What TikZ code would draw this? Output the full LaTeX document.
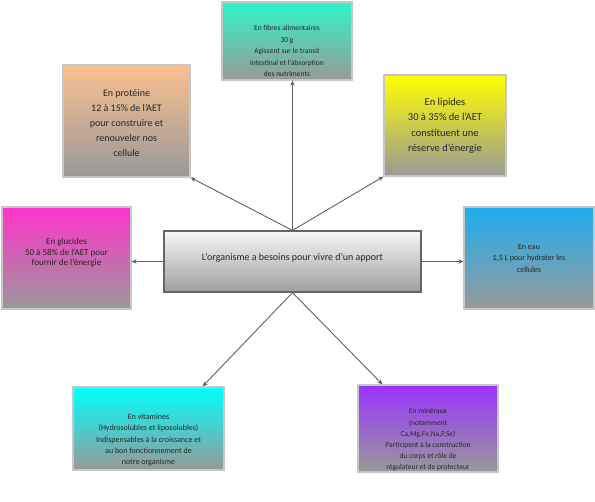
\documentclass[tikz,border=0pt]{standalone}
\usepackage{fontspec}
\setmainfont{Carlito}
\usetikzlibrary{arrows.meta}
\definecolor{fibc}{RGB}{48,245,200}
\definecolor{proc}{RGB}{250,192,144}
\definecolor{lipc}{RGB}{255,255,0}
\definecolor{gluc}{RGB}{255,51,204}
\definecolor{eauc}{RGB}{30,174,239}
\definecolor{vitc}{RGB}{0,255,255}
\definecolor{minc}{RGB}{153,51,255}
\definecolor{basegray}{RGB}{153,153,153}
\definecolor{inkarrow}{RGB}{96,96,96}

\begin{document}
\begin{tikzpicture}[x=1pt,y=-1pt,
  box/.style={draw=black!22,line width=1.2pt,bottom color=basegray,inner sep=0pt},
  txt/.style={align=center,inner sep=0pt,text=black!85},
  arr/.style={draw=inkarrow,line width=0.9pt,-{Stealth[length=5pt,width=4.5pt]}}]
\useasboundingbox (0,0) rectangle (595,502);
\foreach \n/\c/\x/\y/\w/\h in {fib/fibc/287/41/130/78, pro/proc/126.5/121/127/112,
  lip/lipc/445/125.5/122/101, glu/gluc/66.5/258/129/102, eau/eauc/529/258/130/102,
  vit/vitc/148.5/428.5/151/83, min/minc/428/428.5/140/87} {
  \node[box,top color=\c,minimum width=\w pt,minimum height=\h pt] (\n) at (\x,\y) {};
}
\node[draw=black!60,line width=1.2pt,top color=black!3,bottom color=black!38,
  minimum width=257pt,minimum height=61pt,inner sep=0pt] (ctr) at (292.5,261.5) {};
\node[txt,font=\fontsize{10}{12}\selectfont] (ctrt) at (292.5,258) {L’organisme a besoins pour vivre d’un apport};
\node[txt,font=\fontsize{7.5}{11.5}\selectfont] (fibt) at (287,51) {En fibres alimentaires\\30 g\\Agissent sur le transit\\intestinal et l’absorption\\des nutriments};
\node[txt,font=\fontsize{10}{15}\selectfont] (prot) at (126.5,123.5) {En protéine\\12 à 15\% de l’AET\\pour construire et\\renouveler nos\\cellule};
\node[txt,font=\fontsize{10.5}{15.5}\selectfont] (lipt) at (445,126) {En lipides\\30 à 35\% de l’AET\\constituent une\\réserve d’énergie};
\node[txt,font=\fontsize{9}{10.5}\selectfont] (glut) at (66.5,253) {En glucides\\50 à 58\% de l’AET pour\\fournir de l’énergie};
\node[txt,font=\fontsize{8}{11.5}\selectfont] (eaut) at (529,258) {En eau\\1,5 L pour hydrater les\\cellules};
\node[txt,font=\fontsize{8}{11.3}\selectfont] (vitt) at (148.5,440) {En vitamines\\(Hydrosolubles et liposolubles)\\Indispensables à la croissance et\\au bon fonctionnement de\\notre organisme};
\node[txt,font=\fontsize{7.5}{11.2}\selectfont] (mint) at (428,440) {En minéraux\\(notamment\\Ca,Mg,Fe,Na,P,Se)\\Participent à la construction\\du corps et rôle de\\régulateur et de protecteur};
\draw[arr] (ctr.north) -- (ctr.north |- fib.south);
\draw[arr] (ctr.north) -- (pro.south east);
\draw[arr] (ctr.north) -- (lip.south west);
\draw[arr] (ctr.south) -- ([xshift=-22pt]vit.north east);
\draw[arr] (ctr.south) -- ([xshift=25pt]min.north west);
\draw[arr] (ctr.west) -- (ctr.west -| glu.east);
\draw[arr] (ctr.east) -- (ctr.east -| eau.west);
\end{tikzpicture}
\end{document}
